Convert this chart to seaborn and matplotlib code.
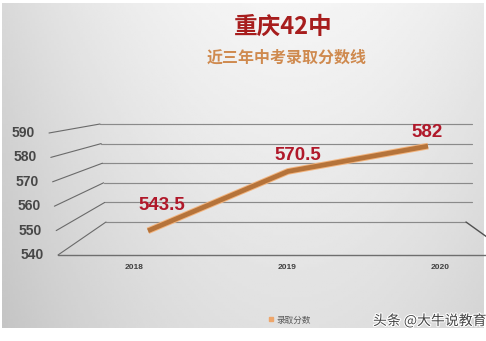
import numpy as np
import matplotlib
matplotlib.use('Agg')
import matplotlib.pyplot as plt
import matplotlib.patheffects as pe
from matplotlib.patches import ConnectionPatch
from matplotlib.lines import Line2D
import seaborn as sns
import pandas as pd

# ---------------- data ----------------
years = [2018, 2019, 2020]
year_labels = ['2018', '2019', '2020']
scores = [543.5, 570.5, 582]
score_labels = ['543.5', '570.5', '582']
y_ticks = [540, 550, 560, 570, 580, 590]
title = '重庆42中'
subtitle = '近三年中考录取分数线'
series_name = '录取分数'
watermark = '头条 @大牛说教育'

df = pd.DataFrame({'year': years, 'score': scores})

# ---------------- layout helpers ----------------
W, H = 486, 341
sns.set_theme(style='white')
plt.rcParams['font.family'] = ['Liberation Sans', 'Noto Sans CJK SC', 'DejaVu Sans']
CJK = ['Noto Sans CJK SC', 'DejaVu Sans']

fig = plt.figure(figsize=(W / 100, H / 100), dpi=100, facecolor='white')


def rect(x0, y0, x1, y1):
    return [x0 / W, 1 - y1 / H, (x1 - x0) / W, (y1 - y0) / H]


# background gradient panel
bg = fig.add_axes(rect(2, 3, 483, 328))
gx = np.linspace(0, 1, 200)
gy = np.linspace(0, 1, 120)
GX, GY = np.meshgrid(gx, gy)
grad = 0.96 - 0.11 * ((GX - 0.6) / 0.6) ** 2 - 0.08 * GY
bg.imshow(grad, cmap='gray', vmin=0, vmax=1, aspect='auto',
          extent=[0, 1, 1, 0], interpolation='bilinear')
bg.set_axis_off()

# front plane (axis labels, floor edge)
FRONT_X0, FRONT_X1 = 134, 440
front = fig.add_axes(rect(FRONT_X0, 133, FRONT_X1, 255))
front.set_xlim(years[0], years[-1])
front.set_ylim(y_ticks[0], y_ticks[-1])
front.patch.set_alpha(0)
for s in front.spines.values():
    s.set_visible(False)


def px2yr(px):
    return years[0] + (px - FRONT_X0) / (FRONT_X1 - FRONT_X0) * (years[-1] - years[0])


def front_left(v):
    return 58 - (v - y_ticks[0]) / (y_ticks[-1] - y_ticks[0]) * 9


def back_left(v):
    return 106 - (v - y_ticks[0]) / (y_ticks[-1] - y_ticks[0]) * 6


front.set_xticks(years)
front.set_xticklabels(year_labels, fontsize=6, fontweight='bold', color='#404040')
front.set_yticks([])
front.tick_params(axis='x', length=0, pad=6.5)
front.grid(False)

grid_col = '#8a8a8a'
front.plot([px2yr(58), px2yr(490)], [y_ticks[0], y_ticks[0]], color='#6e6e6e',
           lw=1.0, clip_on=False)

for v in y_ticks:
    front.text(px2yr(front_left(v) - 14), v, str(v), ha='right', va='center',
               fontsize=10, fontweight='bold', color='#474747', clip_on=False)

# back wall
back = fig.add_axes(rect(100, 124, 472, 222))
back.set_xlim(100, 472)
back.set_ylim(y_ticks[0], y_ticks[-1])
back.set_axis_off()
for v in y_ticks:
    x_end = 472 if v > y_ticks[0] else 466
    back.plot([back_left(v), x_end], [v, v], color=grid_col, lw=0.85, clip_on=False)
    con = ConnectionPatch(xyA=(px2yr(front_left(v)), v), coordsA=front.transData,
                          xyB=(back_left(v), v), coordsB=back.transData,
                          color='#6a6a6a', lw=0.8)
    fig.add_artist(con)
con = ConnectionPatch(xyA=(px2yr(512), y_ticks[0]), coordsA=front.transData,
                      xyB=(466, y_ticks[0]), coordsB=back.transData,
                      color='#505050', lw=1.0)
fig.add_artist(con)

# data plane (middle depth)
mid = fig.add_axes(rect(148, 128.5, 428, 238.5))
mid.set_xlim(years[0], years[-1])
mid.set_ylim(y_ticks[0], y_ticks[-1])
mid.set_axis_off()
sns.lineplot(data=df, x='year', y='score', ax=mid, color='#b5733a', lw=3.4,
             clip_on=False, legend=False, solid_capstyle='butt',
             path_effects=[pe.Stroke(linewidth=4.8, foreground='#f2b47e'), pe.Normal()])

label_offsets = [(14, 25), (10, 16), (-1, 14)]
for x, y, t, off in zip(years, scores, score_labels, label_offsets):
    mid.annotate(t, (x, y), xytext=off, textcoords='offset pixels',
                 ha='center', va='center', fontsize=13.5, fontweight='bold',
                 color='#b0182a', annotation_clip=False)

# titles
fig.text(283 / W, 1 - 27 / H, title, ha='center', va='center', fontsize=17,
         fontweight='bold', color='#a71d1d', family=CJK)
fig.text(287 / W, 1 - 58 / H, subtitle, ha='center', va='center', fontsize=11.5,
         fontweight='bold', color='#cf8a4f', family=CJK)

# legend
fig.legend(handles=[Line2D([], [], marker='s', ls='', color='#eea66b', markersize=3.5)],
           labels=[series_name], loc='center', bbox_to_anchor=(289 / W, 1 - 320 / H),
           frameon=False, prop={'family': CJK, 'size': 6.2}, handletextpad=0.2,
           handlelength=0.8, labelcolor='#595959')

# watermark
fig.text(373 / W, 1 - 321 / H, watermark, ha='left', va='center', fontsize=10,
         color='#444444', family=CJK,
         path_effects=[pe.withStroke(linewidth=1.5, foreground='white')])

fig.savefig('out.png', dpi=100)
